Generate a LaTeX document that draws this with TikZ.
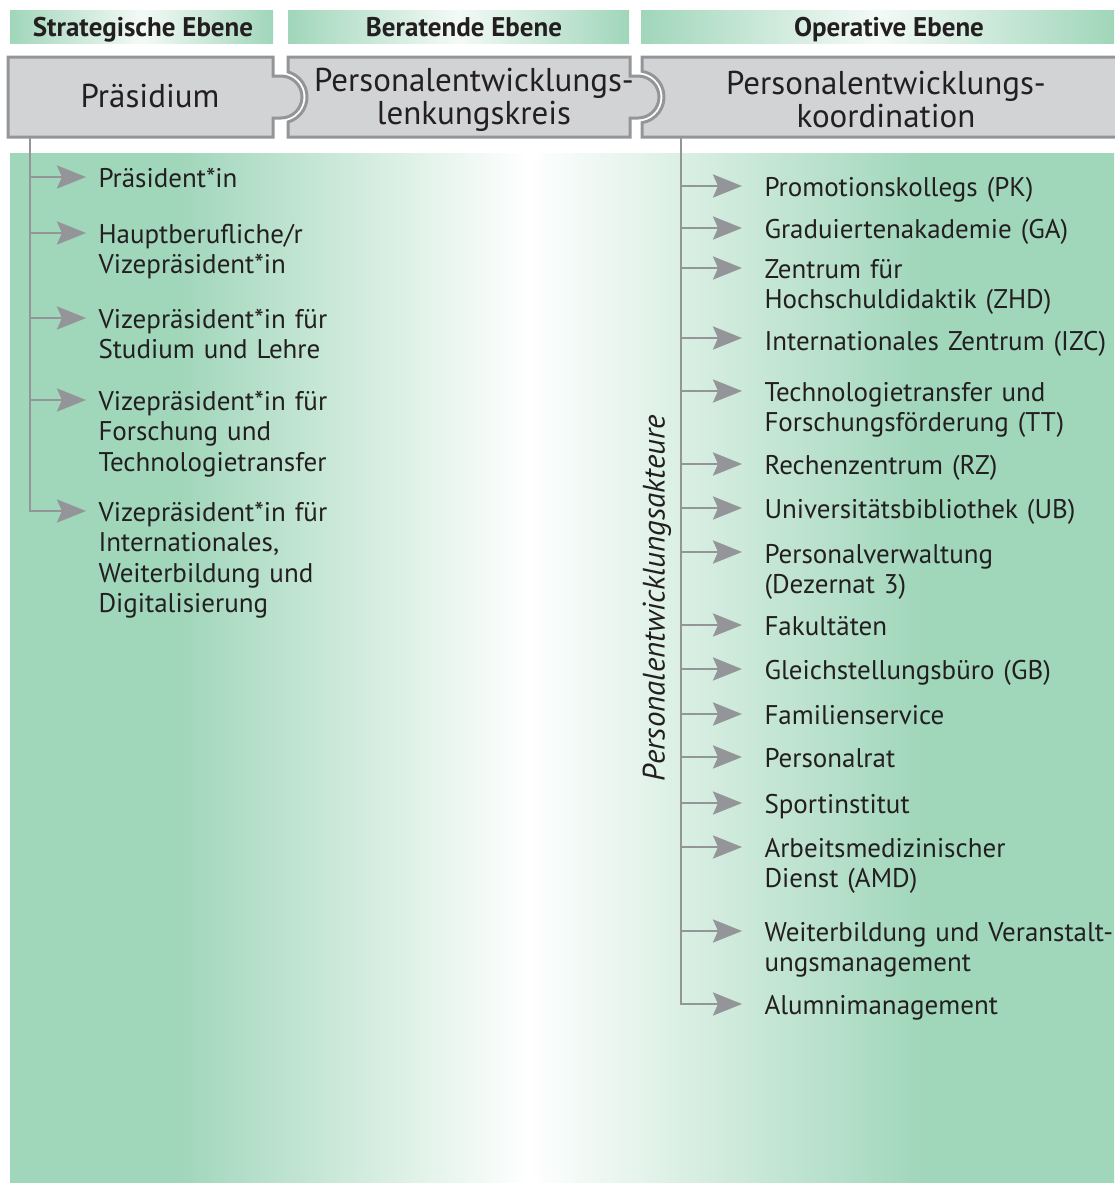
\documentclass[tikz,border=0pt]{standalone}
\usepackage{fontspec}
\setmainfont{PT Sans}
\usetikzlibrary{arrows.meta}

\definecolor{peGreen}{RGB}{160,214,186}
\definecolor{peGray}{RGB}{209,211,212}
\definecolor{peLine}{RGB}{147,149,152}
\definecolor{peText}{RGB}{35,31,32}

\pgfdeclarehorizontalshading{peshade}{100bp}{color(0bp)=(peGreen); color(32.6bp)=(peGreen); color(48.5bp)=(white); color(66.4bp)=(peGreen); color(100bp)=(peGreen)}

\tikzset{every picture/.style={line width=3pt}}
\tikzset{
  band/.style={left color=peGreen,right color=peGreen,middle color=peGreen!12},
  box/.style={fill=peGray,draw=peLine,line width=3pt},
  conn/.style={draw=peLine,line width=2.8pt},
  arr/.style={conn,-{Stealth[length=29pt,width=23pt,inset=5pt,fill=peLine]}},
  item/.style={anchor=base west,inner sep=0pt,text width=420pt,align=left,text=peText,font=\fontsize{27}{30.5}\selectfont},
  head/.style={anchor=base,inner sep=0pt,text=peText,font=\fontsize{27}{30}\selectfont\bfseries},
  title/.style={text=peText,align=center,font=\fontsize{33}{33}\selectfont}
}

\begin{document}
\begin{tikzpicture}[x=1pt,y=1pt,yscale=-1]
    \useasboundingbox (0,0) rectangle (1114,1183);
    % background
    \shade[shading=peshade] (10,153) rectangle (1114,1183);
    \shade[band] (10,10) rectangle (273,43);
    \shade[band] (288,10) rectangle (629,43);
    \shade[band] (641,10) rectangle (1114,43);
    
    \node[head] (strat) at (143,36) {Strategische Ebene};
    \node[head] (berat) at (464,36) {Beratende Ebene};
    \node[head] (oper) at (889,36) {Operative Ebene};
    
    % puzzle boxes
    \draw[box] (8,57) -- (273,57) -- (273,76) -- (281,76) arc[start angle=-90,end angle=90,radius=21] -- (273,118) -- (273,137) -- (8,137) -- cycle;
    \draw[box] (288,57) -- (630,57) -- (630,76) -- (638,76) arc[start angle=-90,end angle=90,radius=21] -- (630,118) -- (630,137) -- (288,137) -- (288,122) arc[start angle=74.4,end angle=-74.4,radius=26] -- cycle;
    \draw[box] (642,57) -- (1120,57) -- (1120,137) -- (642,137) -- (642,122.7) arc[start angle=81.15,end angle=-81.15,radius=26] -- cycle;
    
    \node[title] (praes) at (150,96) {Präsidium};
    \node[title] (lenk) at (474,100) {Personalentwicklungs-\\lenkungskreis};
    \node[title] (koord) at (886,100) {Personalentwicklungs-\\koordination};
    
    \coordinate (ltop) at (30,137);
    \coordinate (rtop) at (681,137);
    
    % strategische Ebene
    \node[item] (vp0) at (97,187) {Präsident*in};
    \node[item] (vp1) at (97,243) {Hauptberufliche/r\\Vizepräsident*in};
    \node[item] (vp2) at (97,328) {Vizepräsident*in für\\Studium und Lehre};
    \node[item] (vp3) at (97,410) {Vizepräsident*in für\\Forschung und\\Technologietransfer};
    \node[item] (vp4) at (97,521) {Vizepräsident*in für\\Internationales,\\Weiterbildung und\\Digitalisierung};
    
    \draw[arr] ([yshift=-10pt]vp0.base west -| ltop) -- ([xshift=-11pt,yshift=-10pt]vp0.base west);
    \draw[arr] ([yshift=-10pt]vp1.base west -| ltop) -- ([xshift=-11pt,yshift=-10pt]vp1.base west);
    \draw[arr] ([yshift=-10pt]vp2.base west -| ltop) -- ([xshift=-11pt,yshift=-10pt]vp2.base west);
    \draw[arr] ([yshift=-10pt]vp3.base west -| ltop) -- ([xshift=-11pt,yshift=-10pt]vp3.base west);
    \draw[arr] (ltop) |- ([xshift=-11pt,yshift=-10pt]vp4.base west);
    
    % operative Ebene
    \node[item] (pk) at (763,196) {Promotionskollegs (PK)};
    \node[item] (ga) at (763,238) {Graduiertenakademie (GA)};
    \node[item] (zhd) at (763,278) {Zentrum für\\Hochschuldidaktik (ZHD)};
    \node[item] (izc) at (763,350) {Internationales Zentrum (IZC)};
    \node[item] (tt) at (763,401) {Technologietransfer und\\Forschungsförderung (TT)};
    \node[item] (rz) at (763,474) {Rechenzentrum (RZ)};
    \node[item] (ub) at (763,518) {Universitätsbibliothek (UB)};
    \node[item] (pv) at (763,563) {Personalverwaltung\\(Dezernat 3)};
    \node[item] (fak) at (763,635) {Fakultäten};
    \node[item] (gb) at (763,679) {Gleichstellungsbüro (GB)};
    \node[item] (fam) at (763,724) {Familienservice};
    \node[item] (prat) at (763,767) {Personalrat};
    \node[item] (sport) at (763,813) {Sportinstitut};
    \node[item] (amd) at (763,857) {Arbeitsmedizinischer\\Dienst (AMD)};
    \node[item] (wb) at (763,941) {Weiterbildung und Veranstalt-\\ungsmanagement};
    \node[item] (alu) at (763,1014) {Alumnimanagement};
    
    \draw[arr] ([yshift=-10pt]pk.base west -| rtop) -- ([xshift=-21pt,yshift=-10pt]pk.base west);
    \draw[arr] ([yshift=-10pt]ga.base west -| rtop) -- ([xshift=-21pt,yshift=-10pt]ga.base west);
    \draw[arr] ([yshift=-10pt]zhd.base west -| rtop) -- ([xshift=-21pt,yshift=-10pt]zhd.base west);
    \draw[arr] ([yshift=-12pt]izc.base west -| rtop) -- ([xshift=-21pt,yshift=-12pt]izc.base west);
    \draw[arr] ([yshift=-10pt]tt.base west -| rtop) -- ([xshift=-21pt,yshift=-10pt]tt.base west);
    \draw[arr] ([yshift=-10pt]rz.base west -| rtop) -- ([xshift=-21pt,yshift=-10pt]rz.base west);
    \draw[arr] ([yshift=-10pt]ub.base west -| rtop) -- ([xshift=-21pt,yshift=-10pt]ub.base west);
    \draw[arr] ([yshift=-11pt]pv.base west -| rtop) -- ([xshift=-21pt,yshift=-11pt]pv.base west);
    \draw[arr] ([yshift=-10pt]fak.base west -| rtop) -- ([xshift=-21pt,yshift=-10pt]fak.base west);
    \draw[arr] ([yshift=-10pt]gb.base west -| rtop) -- ([xshift=-21pt,yshift=-10pt]gb.base west);
    \draw[arr] ([yshift=-10pt]fam.base west -| rtop) -- ([xshift=-21pt,yshift=-10pt]fam.base west);
    \draw[arr] ([yshift=-10pt]prat.base west -| rtop) -- ([xshift=-21pt,yshift=-10pt]prat.base west);
    \draw[arr] ([yshift=-10pt]sport.base west -| rtop) -- ([xshift=-21pt,yshift=-10pt]sport.base west);
    \draw[arr] ([yshift=-10pt]amd.base west -| rtop) -- ([xshift=-21pt,yshift=-10pt]amd.base west);
    \draw[arr] ([yshift=-10pt]wb.base west -| rtop) -- ([xshift=-21pt,yshift=-10pt]wb.base west);
    \draw[arr] (rtop) |- ([xshift=-21pt,yshift=-10pt]alu.base west);
    
    \node[rotate=90,text=peText,font=\fontsize{31}{34}\selectfont\itshape] (akteure) at (657,598) {Personalentwicklungsakteure};
    
\end{tikzpicture}
\end{document}
